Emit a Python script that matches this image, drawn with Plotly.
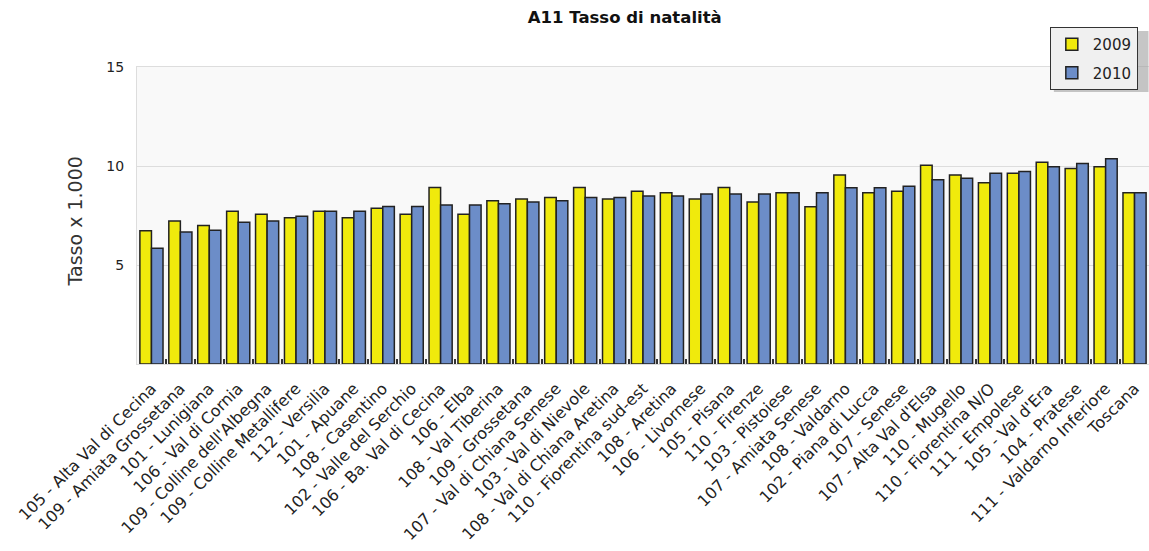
import plotly.graph_objects as go

categories = [
    "105 - Alta Val di Cecina", "109 - Amiata Grossetana", "101 - Lunigiana",
    "106 - Val di Cornia", "109 - Colline dell'Albegna", "109 - Colline Metallifere",
    "112 - Versilia", "101 - Apuane", "108 - Casentino", "102 - Valle del Serchio",
    "106 - Ba. Val di Cecina", "106 - Elba", "108 - Val Tiberina", "109 - Grossetana",
    "107 - Val di Chiana Senese", "103 - Val di Nievole", "108 - Val di Chiana Aretina",
    "110 - Fiorentina sud-est", "108 - Aretina", "106 - Livornese", "105 - Pisana",
    "110 - Firenze", "103 - Pistoiese", "107 - Amiata Senese", "108 - Valdarno",
    "102 - Piana di Lucca", "107 - Senese", "107 - Alta Val d'Elsa", "110 - Mugello",
    "110 - Fiorentina N/O", "111 - Empolese", "105 - Val d'Era", "104 - Pratese",
    "111 - Valdarno Inferiore", "Toscana",
]

tasso_2009 = [
    6.73, 7.22, 6.99, 7.71, 7.56, 7.39, 7.71, 7.39, 7.86, 7.56,
    8.92, 7.56, 8.24, 8.33, 8.41, 8.92, 8.33, 8.73, 8.65, 8.33,
    8.92, 8.18, 8.65, 7.94, 9.55, 8.65, 8.73, 10.04, 9.55, 9.15,
    9.63, 10.19, 9.87, 9.96, 8.65,
]

tasso_2010 = [
    5.84, 6.67, 6.75, 7.16, 7.22, 7.46, 7.71, 7.71, 7.96, 7.96,
    8.03, 8.03, 8.09, 8.18, 8.24, 8.41, 8.41, 8.49, 8.49, 8.58,
    8.58, 8.58, 8.65, 8.65, 8.90, 8.90, 8.98, 9.30, 9.38, 9.63,
    9.72, 9.96, 10.12, 10.36, 8.65,
]

y_ticks = [5, 10, 15]

YELLOW = "#f0ea0c"
BLUE = "#6c8dc8"
OUTLINE = "#222222"

fig = go.Figure()
fig.add_trace(go.Bar(
    x=categories, y=tasso_2009, name="2009", legendgroup="a",
    marker=dict(color=YELLOW, line=dict(color=OUTLINE, width=1.5)),
))
fig.add_trace(go.Bar(
    x=categories, y=tasso_2010, name="2010", legendgroup="b",
    marker=dict(color=BLUE, line=dict(color=OUTLINE, width=1.5)),
))

# drop shadow behind the legend box
fig.add_shape(
    type="rect", xref="paper", yref="paper", layer="above",
    x0=0.906, x1=0.9995, y0=0.916, y1=1.121,
    fillcolor="#a0a0a0", line=dict(width=0), opacity=0.6,
)

# y-axis caption, placed as a rotated annotation
fig.add_annotation(
    text="Tasso x 1.000", textangle=-90,
    xref="paper", yref="paper", x=-0.0613, y=0.48,
    xanchor="center", yanchor="middle", showarrow=False,
    font=dict(size=19, color="#333333"),
)

fig.update_layout(
    width=1149, height=551,
    margin=dict(l=137, r=0, t=67, b=187),
    paper_bgcolor="white",
    plot_bgcolor="#f9f9f9",
    barmode="group",
    bargap=0.2,
    bargroupgap=0.0,
    font=dict(family="DejaVu Sans", color="#222222"),
    title=dict(
        text="<b>A11 Tasso di natalità</b>",
        x=0.482, xref="paper", xanchor="center",
        y=0.968, yref="container", yanchor="middle",
        font=dict(size=16.5, color="#111111"),
    ),
    legend=dict(
        x=0.902, y=1.135, xanchor="left", yanchor="top",
        bgcolor="#f0f0f0", bordercolor="#333333", borderwidth=1,
        font=dict(size=15, color="#222222"),
        itemwidth=32,
        tracegroupgap=6,
    ),
    xaxis=dict(
        tickangle=-45,
        tickfont=dict(size=16, color="#222222"),
        ticks="inside", tickson="boundaries", ticklen=5,
        tickcolor="#333333", tickwidth=2,
        ticklabelstandoff=8,
        showgrid=False, automargin=False,
        showline=True, linecolor="#dddddd", linewidth=1, mirror=True,
    ),
    yaxis=dict(
        range=[0, 15],
        tickvals=y_ticks,
        tickfont=dict(size=14, color="#222222"),
        gridcolor="#dddddd", gridwidth=1,
        showline=True, linecolor="#dddddd", linewidth=1, mirror=True,
        zeroline=False, automargin=False,
        ticks="", ticklabelstandoff=9,
    ),
)

fig.write_html("out.html")
